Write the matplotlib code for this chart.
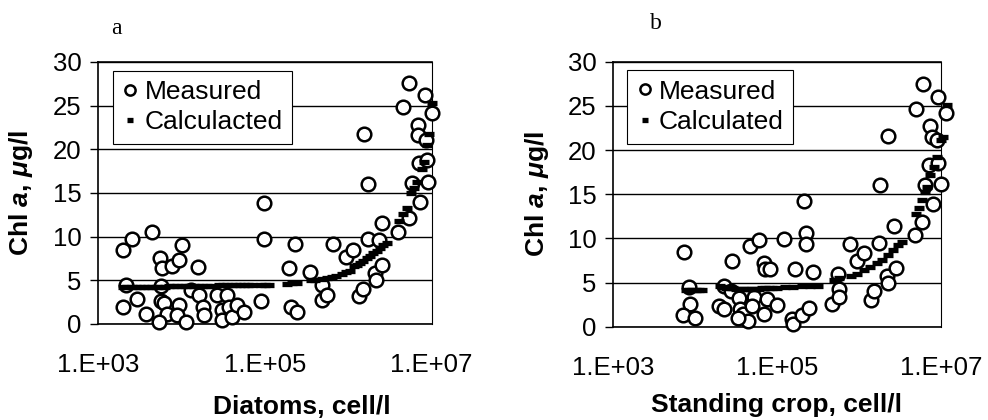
import numpy as np
import matplotlib
matplotlib.use('Agg')
import matplotlib.pyplot as plt

plt.rcParams['font.family'] = 'Liberation Sans'
plt.rcParams['mathtext.fontset'] = 'custom'
plt.rcParams['mathtext.rm'] = 'Liberation Sans:bold'
plt.rcParams['mathtext.bf'] = 'Liberation Sans:bold'
plt.rcParams['mathtext.bfit'] = 'Liberation Sans:bold:italic'

# panel a - diatoms (x stored as log10 of cell/l)
diat_meas_lg = [3.30, 3.40, 3.30, 3.33, 3.47, 3.57, 3.64, 3.74, 3.77, 3.75, 3.75, 3.79, 3.83, 3.73,
                3.88, 3.97, 4.01, 3.97, 3.95, 4.05, 4.11, 4.20, 4.21, 4.26, 4.27, 4.43, 4.55, 4.48,
                4.49, 4.57, 4.61, 4.67, 4.75, 4.95, 4.99, 4.99, 5.29, 5.36, 5.31, 5.38, 5.54, 5.69,
                5.68, 5.75, 5.82, 5.97, 6.06, 6.13, 6.18, 6.19, 6.24, 6.24, 6.32, 6.33, 6.37, 6.41,
                6.41, 6.60, 6.66, 6.73, 6.73, 6.76, 6.84, 6.84, 6.85, 6.86, 6.92, 6.93, 6.94, 6.96, 7.00]
diat_meas_chl = [8.5, 9.7, 2.0, 4.5, 2.9, 1.2, 10.5, 7.5, 6.4, 4.3, 2.6, 2.4, 1.2, 0.2,
                 6.6, 7.3, 9.0, 2.2, 1.0, 0.2, 3.9, 6.5, 3.3, 2.0, 1.0, 3.3, 3.3, 1.6,
                 0.5, 2.0, 0.8, 2.2, 1.4, 2.6, 13.9, 9.7, 6.4, 9.2, 2.0, 1.4, 6.0, 4.5,
                 2.7, 3.3, 9.2, 7.7, 8.5, 3.2, 4.0, 21.8, 16.0, 9.7, 5.8, 5.0, 9.6, 6.8,
                 11.6, 10.5, 24.8, 27.6, 12.1, 16.1, 22.8, 21.6, 18.4, 14.0, 26.2, 21.1, 18.8, 16.3, 24.2]

diat_calc_lg = [3.30, 3.35, 3.40, 3.45, 3.50, 3.55, 3.60, 3.65, 3.70, 3.75, 3.80, 3.85, 3.90, 3.95,
                4.00, 4.05, 4.10, 4.15, 4.20, 4.25, 4.30, 4.35, 4.45, 4.50, 4.55, 4.60, 4.65, 4.70,
                4.75, 4.80, 4.85, 4.95, 5.00, 5.05, 5.27, 5.32, 5.38, 5.55, 5.60, 5.68, 5.75, 5.80,
                5.85, 5.92, 5.97, 6.02, 6.07, 6.10, 6.14, 6.18, 6.22, 6.26, 6.30, 6.34, 6.38, 6.42,
                6.46, 6.61, 6.66, 6.70, 6.75, 6.79, 6.83, 6.88, 6.91, 6.94, 6.97, 7.00]
diat_calc_chl = [4.2, 4.2, 4.2, 4.2, 4.2, 4.2, 4.2, 4.2, 4.2, 4.2, 4.2, 4.3, 4.3, 4.3,
                 4.3, 4.3, 4.3, 4.3, 4.3, 4.3, 4.3, 4.3, 4.5, 4.5, 4.5, 4.5, 4.5, 4.5,
                 4.5, 4.5, 4.5, 4.5, 4.5, 4.5, 4.6, 4.7, 4.7, 5.0, 5.0, 5.2, 5.3, 5.4,
                 5.5, 5.7, 6.0, 6.1, 6.6, 6.8, 7.0, 7.2, 7.5, 7.8, 8.1, 8.4, 8.7, 9.0,
                 9.3, 11.8, 12.6, 13.3, 15.0, 15.6, 16.3, 17.8, 18.6, 20.5, 21.8, 25.3]

# panel b - standing crop
crop_meas_lg = [3.87, 3.94, 3.85, 4.00, 3.93, 4.29, 4.35, 4.35, 4.45, 4.44, 4.54, 4.55, 4.58, 4.65,
                4.67, 4.78, 4.72, 4.70, 4.84, 4.85, 4.92, 4.84, 4.88, 5.00, 5.09, 5.18, 5.19, 5.22,
                5.33, 5.36, 5.36, 5.31, 5.39, 5.44, 5.67, 5.74, 5.76, 5.76, 5.89, 5.98, 6.06, 6.15,
                6.18, 6.26, 6.25, 6.35, 6.34, 6.35, 6.43, 6.45, 6.68, 6.70, 6.78, 6.77, 6.80, 6.87,
                6.89, 6.90, 6.85, 6.95, 6.96, 6.96, 7.00, 7.06, 4.52]
crop_meas_chl = [8.5, 2.6, 1.3, 1.0, 4.5, 2.3, 2.0, 4.6, 7.4, 4.0, 3.2, 2.0, 1.4, 0.7,
                 9.1, 9.8, 3.4, 2.3, 7.2, 6.5, 6.5, 1.4, 3.1, 2.5, 9.9, 0.9, 0.3, 6.5,
                 14.2, 10.6, 9.4, 1.3, 2.1, 6.2, 2.6, 6.0, 4.3, 3.4, 9.4, 7.4, 8.4, 3.0,
                 4.0, 16.0, 9.5, 21.6, 5.7, 5.0, 11.4, 6.6, 10.4, 24.6, 27.5, 11.9, 16.0, 22.7,
                 21.5, 13.9, 18.3, 21.1, 26.0, 18.5, 16.1, 24.2, 1.0]

crop_calc_lg = [3.89, 3.93, 3.97, 4.01, 4.05, 4.09, 4.30, 4.34, 4.38, 4.42, 4.46, 4.50, 4.54, 4.58,
                4.62, 4.66, 4.70, 4.74, 4.78, 4.82, 4.86, 4.90, 4.94, 5.00, 5.10, 5.20, 5.30, 5.40,
                5.50, 5.70, 5.76, 5.90, 5.98, 6.06, 6.14, 6.22, 6.28, 6.35, 6.41, 6.47, 6.53, 6.69,
                6.73, 6.77, 6.80, 6.83, 6.87, 6.91, 6.95, 7.00, 7.02, 7.07]
crop_calc_chl = [4.2, 4.2, 4.2, 4.2, 4.2, 4.2, 4.6, 4.5, 4.4, 4.4, 4.4, 4.3, 4.3, 4.3,
                 4.3, 4.3, 4.3, 4.3, 4.3, 4.4, 4.4, 4.4, 4.4, 4.4, 4.5, 4.5, 4.6, 4.6,
                 4.6, 5.3, 5.5, 5.7, 6.0, 6.4, 6.8, 7.2, 7.5, 8.1, 8.7, 9.2, 9.6, 12.8,
                 13.4, 14.3, 15.3, 15.8, 17.2, 18.1, 19.2, 21.1, 21.5, 25.1]

panels = [
    dict(rect=[0.0995, 0.2286, 0.3374, 0.6238], tag='a', tag_xy=(0.118, 0.933),
         meas=(diat_meas_lg, diat_meas_chl), calc=(diat_calc_lg, diat_calc_chl),
         xlabel='Diatoms, cell/l', xlab=(0.61, -0.27), calc_name='Calculacted'),
    dict(rect=[0.6204, 0.2221, 0.3320, 0.6310], tag='b', tag_xy=(0.664, 0.943),
         meas=(crop_meas_lg, crop_meas_chl), calc=(crop_calc_lg, crop_calc_chl),
         xlabel='Standing crop, cell/l', xlab=(0.50, -0.25), calc_name='Calculated'),
]

fig = plt.figure(figsize=(9.88, 4.2), dpi=100)

for p in panels:
    ax = fig.add_axes(p['rect'])
    mx = 10 ** np.array(p['meas'][0])
    cx = 10 ** np.array(p['calc'][0])
    ax.plot(mx, p['meas'][1], 'o', ms=9.8, mfc='white', mec='black', mew=1.8,
            label='Measured', clip_on=False, zorder=3)
    ax.plot(cx, p['calc'][1], '_', ms=6.5, mew=3.8, color='black',
            label=p['calc_name'], clip_on=False, zorder=4)

    ax.set_xscale('log')
    ax.set_xlim(1e3, 1e7)
    ax.set_ylim(0, 30)
    ax.set_xticks([1e3, 1e5, 1e7])
    ax.set_xticklabels(['1.E+03', '1.E+05', '1.E+07'])
    ax.xaxis.set_minor_locator(matplotlib.ticker.NullLocator())
    ax.set_yticks(np.arange(0, 31, 5))
    ax.tick_params(axis='x', length=0, pad=21, labelsize=18.5)
    ax.tick_params(axis='y', direction='out', length=6, width=1, pad=6, labelsize=18.5)
    ax.yaxis.grid(True, color='black', lw=1.0)
    ax.set_axisbelow(True)
    for s in ax.spines.values():
        s.set_linewidth(1.2)
        s.set_color('black')
    ax.spines['right'].set_linewidth(0.8)

    ax.set_xlabel(p['xlabel'], fontsize=19, fontweight='bold')
    ax.xaxis.set_label_coords(*p['xlab'])
    ax.set_ylabel(r'Chl $\mathbfit{a}$, $\mathbfit{\mu}$g/l', fontsize=19, fontweight='bold')
    ax.yaxis.set_label_coords(-0.19, 0.5)

    leg = ax.legend(loc='upper left', bbox_to_anchor=(0.044, 0.967), fontsize=19,
                    frameon=True, fancybox=False, edgecolor='black', framealpha=1,
                    handlelength=0.6, handletextpad=0.25, borderpad=0.35,
                    labelspacing=0.25, borderaxespad=0, markerscale=0.75)
    leg.get_frame().set_linewidth(0.8)

    fig.text(p['tag_xy'][0], p['tag_xy'][1], p['tag'], fontsize=17,
             family='Liberation Serif', ha='center', va='center')

fig.savefig('out.png', dpi=100)
